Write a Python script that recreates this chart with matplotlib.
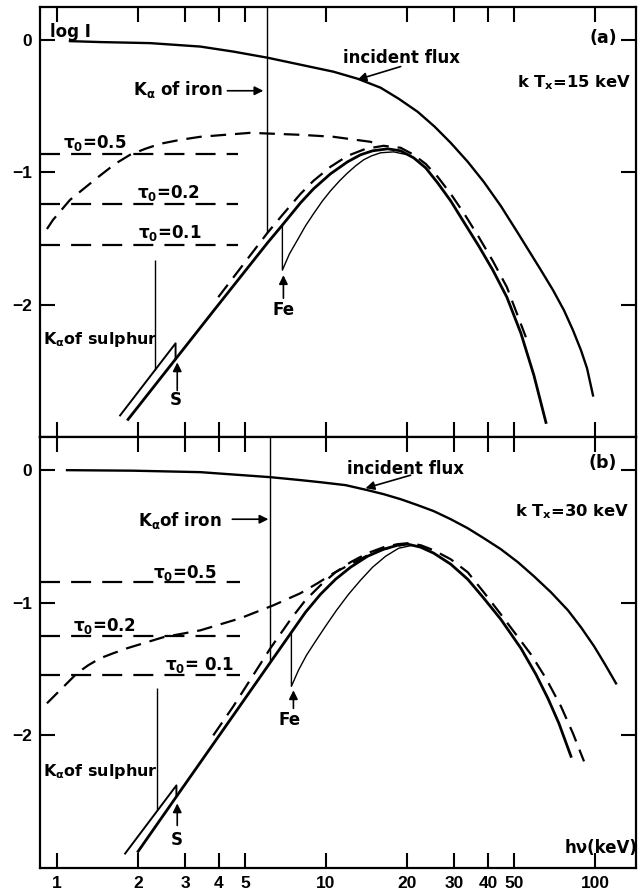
import matplotlib
matplotlib.use("Agg")
import matplotlib.pyplot as plt
from matplotlib.ticker import NullLocator, FixedLocator

plt.rcParams['font.family'] = ['DejaVu Sans']
plt.rcParams['font.weight'] = 'bold'
plt.rcParams['mathtext.fontset'] = 'custom'
plt.rcParams['mathtext.bf'] = 'DejaVu Sans:bold'
plt.rcParams['mathtext.rm'] = 'DejaVu Sans:bold'
plt.rcParams['mathtext.it'] = 'DejaVu Sans:bold'
plt.rcParams['mathtext.default'] = 'bf'

# ---------------- data: panel (a), kT_x = 15 keV ----------------
inc_a_E = [1.118, 1.446, 2.220, 3.409, 4.524, 6.054, 8.035, 10.66, 13.10, 15.96, 18.62, 21.92, 25.36,
           29.09, 33.65, 38.60, 44.66, 51.67, 62.94, 69.8, 76.64, 82.8, 88.7, 93.4, 98.3]
inc_a_logI = [-0.008, -0.015, -0.023, -0.049, -0.087, -0.133, -0.186, -0.239, -0.292, -0.360, -0.443, -0.542, -0.655,
              -0.777, -0.920, -1.072, -1.254, -1.458, -1.739, -1.890, -2.042, -2.193, -2.345, -2.481, -2.686]

tau05_a_E = [0.918, 0.966, 1.118, 1.409, 1.644, 1.870, 2.127, 2.419, 2.872, 3.409, 5.234, 8.035, 10.66, 14.65, 15.69]
tau05_a_logI = [-1.428, -1.36, -1.208, -1.042, -0.936, -0.867, -0.822, -0.784, -0.754, -0.731, -0.701, -0.716, -0.731, -0.769, -0.792]

tau02_a_E = [3.978, 6.054, 6.886, 8.035, 8.98, 10.39, 12.03, 14.03, 16.38, 18.95, 21.18, 23.48, 26.02,
             29.09, 32.52, 36.98, 41.71, 47.02, 55.34]
tau02_a_logI = [-1.943, -1.458, -1.322, -1.163, -1.064, -0.958, -0.875, -0.822, -0.799, -0.814, -0.867, -0.936, -1.034,
                -1.163, -1.307, -1.489, -1.670, -1.867, -2.246]

tau01_a_E = [1.838, 2.775, 3.811, 6.054, 6.886, 8.035, 8.98, 10.39, 12.03, 13.44, 14.90, 16.94, 18.95, 21.18,
             23.48, 26.02, 29.09, 32.52, 36.98, 41.71, 47.02, 53.03, 59.27, 65.70]
tau01_a_logI = [-2.867, -2.405, -2.049, -1.534, -1.398, -1.231, -1.125, -1.011, -0.920, -0.867, -0.837, -0.822, -0.837, -0.890,
                -0.966, -1.080, -1.216, -1.375, -1.557, -1.739, -1.943, -2.216, -2.534, -2.890]

sedge_a_E = [1.717, 2.76, 2.76]
sedge_a_logI = [-2.837, -2.292, -2.405]

feedge_a_E = [6.886, 6.886, 7.31, 7.833, 8.387, 8.98, 9.70, 10.39, 11.23, 12.03, 12.88, 13.80, 14.77, 15.96, 17.84, 19.77]
feedge_a_logI = [-1.398, -1.739, -1.617, -1.511, -1.405, -1.314, -1.216, -1.140, -1.064, -1.004, -0.951, -0.905, -0.875, -0.852, -0.845, -0.864]

tau_levels_a = [-0.862, -1.239, -1.549]

# ---------------- data: panel (b), kT_x = 30 keV ----------------
inc_b_E = [1.09, 1.919, 3.409, 6.214, 8.035, 9.54, 11.82, 14.28, 16.38, 18.95, 21.92, 25.15, 29.09, 33.65,
           38.60, 44.66, 51.67, 59.27, 68.6, 79.33, 88.7, 99.2, 108.9, 119.7]
inc_b_logI = [0.0, -0.004, -0.015, -0.053, -0.075, -0.091, -0.113, -0.151, -0.181, -0.219, -0.264, -0.309, -0.370, -0.438,
              -0.513, -0.596, -0.694, -0.800, -0.921, -1.057, -1.185, -1.328, -1.464, -1.608]

tau05_b_E = [0.918, 1.026, 1.187, 1.305, 1.446, 1.617, 1.823, 2.482, 3.409, 4.803, 6.377, 8.035, 9.30, 10.66,
             12.34, 14.28, 16.38, 18.95]
tau05_b_logI = [-1.758, -1.660, -1.532, -1.472, -1.419, -1.381, -1.343, -1.260, -1.208, -1.117, -1.019, -0.928, -0.853, -0.777,
                -0.709, -0.642, -0.596, -0.566]

tau02_b_E = [3.811, 4.524, 6.214, 7.438, 8.387, 9.54, 10.85, 12.34, 14.28, 16.38, 18.47, 20.12, 22.49, 25.15,
             29.09, 33.65, 38.60, 44.66, 50.8, 57.77, 65.7, 74.7, 82.8, 91.0]
tau02_b_logI = [-2.0, -1.781, -1.343, -1.117, -0.981, -0.868, -0.770, -0.694, -0.626, -0.581, -0.558, -0.551, -0.566, -0.604,
                -0.672, -0.770, -0.921, -1.087, -1.238, -1.389, -1.570, -1.781, -1.985, -2.196]

tau01_b_E = [2.003, 2.799, 4.524, 6.214, 7.438, 8.387, 9.54, 10.85, 12.34, 14.28, 16.38, 18.47, 20.12, 22.49,
             25.15, 29.09, 33.65, 38.60, 44.66, 53.03, 60.3, 66.83, 73.4, 81.4]
tau01_b_logI = [-2.875, -2.453, -1.849, -1.449, -1.223, -1.072, -0.936, -0.823, -0.732, -0.649, -0.596, -0.566, -0.558, -0.581,
                -0.626, -0.709, -0.823, -0.966, -1.125, -1.343, -1.540, -1.721, -1.909, -2.158]

sedge_b_E = [1.792, 2.78, 2.78]
sedge_b_logI = [-2.891, -2.377, -2.453]

feedge_b_E = [7.438, 7.438, 7.90, 8.46, 9.14, 9.96, 10.94, 12.13, 13.44, 14.90, 16.66, 18.62, 21.0]
feedge_b_logI = [-1.223, -1.630, -1.509, -1.396, -1.291, -1.177, -1.057, -0.936, -0.830, -0.732, -0.649, -0.589, -0.566]

tau_levels_b = [-0.845, -1.253, -1.547]

# K-alpha marker lines
fe_ka_E = [6.05, 6.21]
fe_ka_bottom = [-1.458, -1.442]
s_ka_E = [2.32, 2.36]
s_ka_top = [-1.663, -1.645]
s_ka_bottom = [-2.49, -2.56]

xticks = [1, 2, 3, 4, 5, 10, 20, 30, 40, 50, 100]
xticklabels = ['1', '2', '3', '4', '5', '10', '20', '30', '40', '50', '100']
yticks = [-2, -1, 0]
yticklabels = ['\u22122', '\u22121', '0']

XLIM = (0.865, 142)
YLIM = (-3.0, 0.25)

fig = plt.figure(figsize=(6.4, 8.9), dpi=100)
axA = fig.add_axes([40/640, 1-437/890, 596/640, 430/890])
axB = fig.add_axes([40/640, 1-868/890, 596/640, 431/890])

LDASH = (0, (9, 5))
CDASH = (0, (7, 4))
FS = 12
TICKFONT = {'family': 'Liberation Sans', 'weight': 'bold', 'size': 12.5}

def style(ax, labelbottom):
    ax.set_xscale('log')
    ax.set_xlim(*XLIM)
    ax.set_ylim(*YLIM)
    ax.xaxis.set_major_locator(FixedLocator(xticks))
    ax.xaxis.set_minor_locator(NullLocator())
    ax.set_xticks(xticks)
    ax.set_xticklabels(xticklabels if labelbottom else [''] * len(xticks), fontdict=TICKFONT)
    ax.set_yticks(yticks)
    ax.set_yticklabels(yticklabels, fontdict=TICKFONT)
    ax.tick_params(which='both', direction='in', top=True, right=True,
                   length=11, width=1.5, pad=6, labelbottom=labelbottom)
    for sp in ax.spines.values():
        sp.set_linewidth(1.6)

def draw_panel(ax, inc_E, inc_L, t5E, t5L, t2E, t2L, t1E, t1L, sE, sL, fE, fL,
               levels, level_xmax, feka, fekab, ska, skat, skab):
    ax.plot(inc_E, inc_L, color='black', lw=1.7)
    ax.plot(t5E, t5L, color='black', lw=1.6, linestyle=CDASH)
    ax.plot(t2E, t2L, color='black', lw=1.6, linestyle=CDASH)
    ax.plot(t1E, t1L, color='black', lw=2.0)
    ax.plot(sE, sL, color='black', lw=1.4)
    ax.plot(fE, fL, color='black', lw=1.0)
    ax.hlines(levels, XLIM[0], level_xmax, colors='black', lw=1.6, linestyles=LDASH)
    ax.vlines(feka, fekab, YLIM[1], colors='black', lw=1.0)
    ax.vlines(ska, skab, skat, colors='black', lw=1.0)

style(axA, False)
style(axB, True)

draw_panel(axA, inc_a_E, inc_a_logI, tau05_a_E, tau05_a_logI, tau02_a_E, tau02_a_logI,
           tau01_a_E, tau01_a_logI, sedge_a_E, sedge_a_logI, feedge_a_E, feedge_a_logI,
           tau_levels_a, 4.72, fe_ka_E[0], fe_ka_bottom[0], s_ka_E[0], s_ka_top[0], s_ka_bottom[0])
draw_panel(axB, inc_b_E, inc_b_logI, tau05_b_E, tau05_b_logI, tau02_b_E, tau02_b_logI,
           tau01_b_E, tau01_b_logI, sedge_b_E, sedge_b_logI, feedge_b_E, feedge_b_logI,
           tau_levels_b, 4.80, fe_ka_E[1], fe_ka_bottom[1], s_ka_E[1], s_ka_top[1], s_ka_bottom[1])

arrow = dict(arrowstyle='-|>', color='black', lw=1.2, mutation_scale=13, shrinkA=0, shrinkB=0)

# ---- panel (a) annotations ----
ta = axA.transAxes
axA.text(0.0168, 0.942, 'log I', transform=ta, fontsize=FS, ha='left', va='center')
axA.text(0.968, 0.928, '(a)', transform=ta, fontsize=FS+0.5, ha='right', va='center')
axA.text(0.606, 0.881, 'incident flux', transform=ta, fontsize=FS, ha='center', va='center')
axA.text(0.993, 0.823, r'k T$_\mathbf{x}$=15 keV', transform=ta, fontsize=11.8, ha='right', va='center')
axA.text(0.307, 0.807, r'K$_\mathbf{\alpha}$ of iron', transform=ta, fontsize=FS, ha='right', va='center')
axA.text(0.0386, 0.684, r'$\mathbf{\tau_0}$=0.5', transform=ta, fontsize=FS, ha='left', va='center')
axA.text(0.163, 0.567, r'$\mathbf{\tau_0}$=0.2', transform=ta, fontsize=FS, ha='left', va='center')
axA.text(0.164, 0.474, r'$\mathbf{\tau_0}$=0.1', transform=ta, fontsize=FS, ha='left', va='center')
axA.text(0.005, 0.226, r'K$_\mathbf{\alpha}$of sulphur', transform=ta, fontsize=11.5, ha='left', va='center')
axA.text(0.228, 0.086, 'S', transform=ta, fontsize=FS, ha='center', va='center')
axA.text(0.408, 0.295, 'Fe', transform=ta, fontsize=FS, ha='center', va='center')
axA.annotate('', xy=(13.10, -0.299), xytext=(18.95, -0.20), arrowprops=arrow)
axA.annotate('', xy=(5.85, -0.383), xytext=(4.30, -0.383), arrowprops=arrow)
axA.annotate('', xy=(2.80, -2.436), xytext=(2.80, -2.648), arrowprops=arrow)
axA.annotate('', xy=(6.946, -1.777), xytext=(6.946, -1.951), arrowprops=arrow)

# ---- panel (b) annotations ----
tb = axB.transAxes
axB.text(0.968, 0.940, '(b)', transform=tb, fontsize=FS+0.5, ha='right', va='center')
axB.text(0.614, 0.926, 'incident flux', transform=tb, fontsize=FS, ha='center', va='center')
axB.text(0.990, 0.826, r'k T$_\mathbf{x}$=30 keV', transform=tb, fontsize=11.8, ha='right', va='center')
axB.text(0.305, 0.807, r'K$_\mathbf{\alpha}$of iron', transform=tb, fontsize=FS, ha='right', va='center')
axB.text(0.190, 0.684, r'$\mathbf{\tau_0}$=0.5', transform=tb, fontsize=FS, ha='left', va='center')
axB.text(0.055, 0.561, r'$\mathbf{\tau_0}$=0.2', transform=tb, fontsize=FS, ha='left', va='center')
axB.text(0.210, 0.471, r'$\mathbf{\tau_0}$= 0.1', transform=tb, fontsize=FS, ha='left', va='center')
axB.text(0.005, 0.223, r'K$_\mathbf{\alpha}$of sulphur', transform=tb, fontsize=11.5, ha='left', va='center')
axB.text(0.230, 0.065, 'S', transform=tb, fontsize=FS, ha='center', va='center')
axB.text(0.419, 0.343, 'Fe', transform=tb, fontsize=FS, ha='center', va='center')
axB.text(1.003, 0.046, 'h\u03bd(keV)', transform=tb, fontsize=FS, ha='right', va='center')
axB.annotate('', xy=(14.03, -0.136), xytext=(20.64, -0.038), arrowprops=arrow)
axB.annotate('', xy=(6.107, -0.370), xytext=(4.485, -0.370), arrowprops=arrow)
axB.annotate('', xy=(2.80, -2.513), xytext=(2.80, -2.679), arrowprops=arrow)
axB.annotate('', xy=(7.568, -1.660), xytext=(7.568, -1.796), arrowprops=arrow)

fig.savefig('out.png', dpi=100)
